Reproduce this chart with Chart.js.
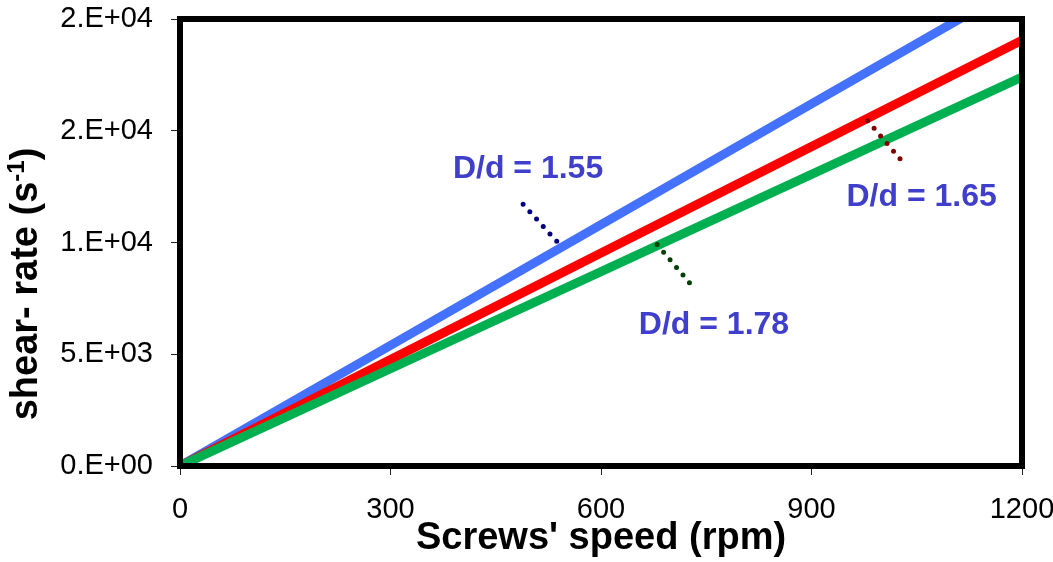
<!DOCTYPE html>
<html>
<head>
<meta charset="utf-8">
<script src="https://cdn.jsdelivr.net/npm/chart.js@4"></script>
<style>
  html, body { margin: 0; padding: 0; background: #fff; }
  #wrap { width: 1053px; height: 562px; }
</style>
</head>
<body>
<div id="wrap"><canvas id="c" width="1053" height="562"></canvas></div>
<script>
// screw speed (rpm) and shear rate (1/s)
const speeds = [0, 300, 600, 900, 1200];
const rate155 = [0, 5400, 10800, 16200, 21600];
const rate165 = [0, 4760, 9530, 14290, 19050];
const rate178 = [0, 4350, 8700, 13050, 17400];
const yTicks = [0, 5000, 10000, 15000, 20000];
const xTicks = [0, 300, 600, 900, 1200];

// label text, text anchor and dotted leader, all in data units
const notes = [
  { text: 'D/d = 1.55', at: [496, 13290], from: [489, 11710], to: [541, 9910], dot: '#000080' },
  { text: 'D/d = 1.65', at: [1057, 12030], from: [980, 15450], to: [1030, 13600], dot: '#800000' },
  { text: 'D/d = 1.78', at: [761, 6310], from: [680, 9910], to: [731, 8020], dot: '#004000' }
];

const pts = (ys) => speeds.map((x, i) => ({ x: x, y: ys[i] }));

// 15000 -> "2.E+04", same as the spreadsheet's 0-decimal scientific format
const sci = (v) => {
  if (v === 0) return '0.E+00';
  let e = Math.floor(Math.log10(v));
  let m = Math.round(v / Math.pow(10, e));
  if (m === 10) { m = 1; e += 1; }
  return m + '.E+' + String(e).padStart(2, '0');
};

const FONT = '"Liberation Sans", Arial, sans-serif';

const framePlugin = {
  id: 'frame',
  afterDatasetsDraw(chart) {
    const ctx = chart.ctx;
    const xs = chart.scales.x, ys = chart.scales.y;
    ctx.save();
    notes.forEach(n => {
      ctx.beginPath();
      ctx.setLineDash([0, 10]);
      ctx.lineCap = 'round';
      ctx.lineWidth = 5;
      ctx.strokeStyle = n.dot;
      ctx.moveTo(xs.getPixelForValue(n.from[0]), ys.getPixelForValue(n.from[1]));
      ctx.lineTo(xs.getPixelForValue(n.to[0]), ys.getPixelForValue(n.to[1]));
      ctx.stroke();
      ctx.setLineDash([]);
      ctx.fillStyle = '#3F3FCC';
      ctx.font = 'bold 32px ' + FONT;
      ctx.textAlign = 'center';
      ctx.textBaseline = 'middle';
      ctx.fillText(n.text, xs.getPixelForValue(n.at[0]), ys.getPixelForValue(n.at[1]));
    });
    const a = chart.chartArea;
    ctx.lineWidth = 6;
    ctx.strokeStyle = '#000';
    ctx.lineJoin = 'miter';
    ctx.strokeRect(a.left, a.top, a.right - a.left, a.bottom - a.top);

    // y title with a real superscript, sitting a bit below the axis middle like the original
    ctx.translate(27, 284);
    ctx.rotate(-Math.PI / 2);
    ctx.fillStyle = '#000';
    ctx.textBaseline = 'middle';
    ctx.textAlign = 'left';
    const big = 'bold 38px ' + FONT, small = 'bold 24px ' + FONT;
    ctx.font = big;
    const w1 = ctx.measureText('shear- rate (s').width;
    const w3 = ctx.measureText(')').width;
    ctx.font = small;
    const w2 = ctx.measureText('-1').width;
    let x = -(w1 + w2 + w3) / 2;
    ctx.font = big;
    ctx.fillText('shear- rate (s', x, 0);
    x += w1;
    ctx.font = small;
    ctx.fillText('-1', x, -10);
    x += w2;
    ctx.font = big;
    ctx.fillText(')', x, 0);
    ctx.restore();
  }
};

Chart.defaults.font.family = FONT;
Chart.defaults.color = '#000';

new Chart(document.getElementById('c'), {
  type: 'line',
  data: {
    datasets: [
      { label: 'D/d = 1.78', data: pts(rate178), borderColor: '#00B050', borderWidth: 9, pointRadius: 0, clip: 0 },
      { label: 'D/d = 1.65', data: pts(rate165), borderColor: '#FF0000', borderWidth: 9, pointRadius: 0, clip: 0 },
      { label: 'D/d = 1.55', data: pts(rate155), borderColor: '#4472FF', borderWidth: 9, pointRadius: 0, clip: 0 }
    ]
  },
  options: {
    responsive: false,
    animation: false,
    layout: { padding: { left: 0, right: 31, top: 19, bottom: 0 } },
    plugins: { legend: { display: false }, tooltip: { enabled: false } },
    scales: {
      x: {
        type: 'linear',
        min: 0,
        max: 1200,
        afterBuildTicks: (s) => { s.ticks = xTicks.map(v => ({ value: v })); },
        afterFit: (s) => { s.height = 96; s.paddingLeft = 0; s.paddingRight = 0; },
        grid: { drawOnChartArea: false, tickLength: 9, color: '#222', lineWidth: 1 },
        border: { display: false },
        ticks: { font: { size: 29 }, padding: 18, maxRotation: 0, callback: (v) => String(v) },
        title: { display: true, text: "Screws' speed (rpm)", font: { size: 38, weight: 'bold' }, padding: { top: 0, bottom: 1 } }
      },
      y: {
        min: 0,
        max: 20000,
        afterBuildTicks: (s) => { s.ticks = yTicks.map(v => ({ value: v })); },
        afterFit: (s) => { s.width = 180; s.paddingTop = 0; s.paddingBottom = 0; },
        grid: { drawOnChartArea: false, tickLength: 9, color: '#222', lineWidth: 1 },
        border: { display: false },
        ticks: { font: { size: 29 }, padding: 18, callback: (v) => sci(v) },
        title: { display: false }
      }
    }
  },
  plugins: [framePlugin]
});
</script>
</body>
</html>
